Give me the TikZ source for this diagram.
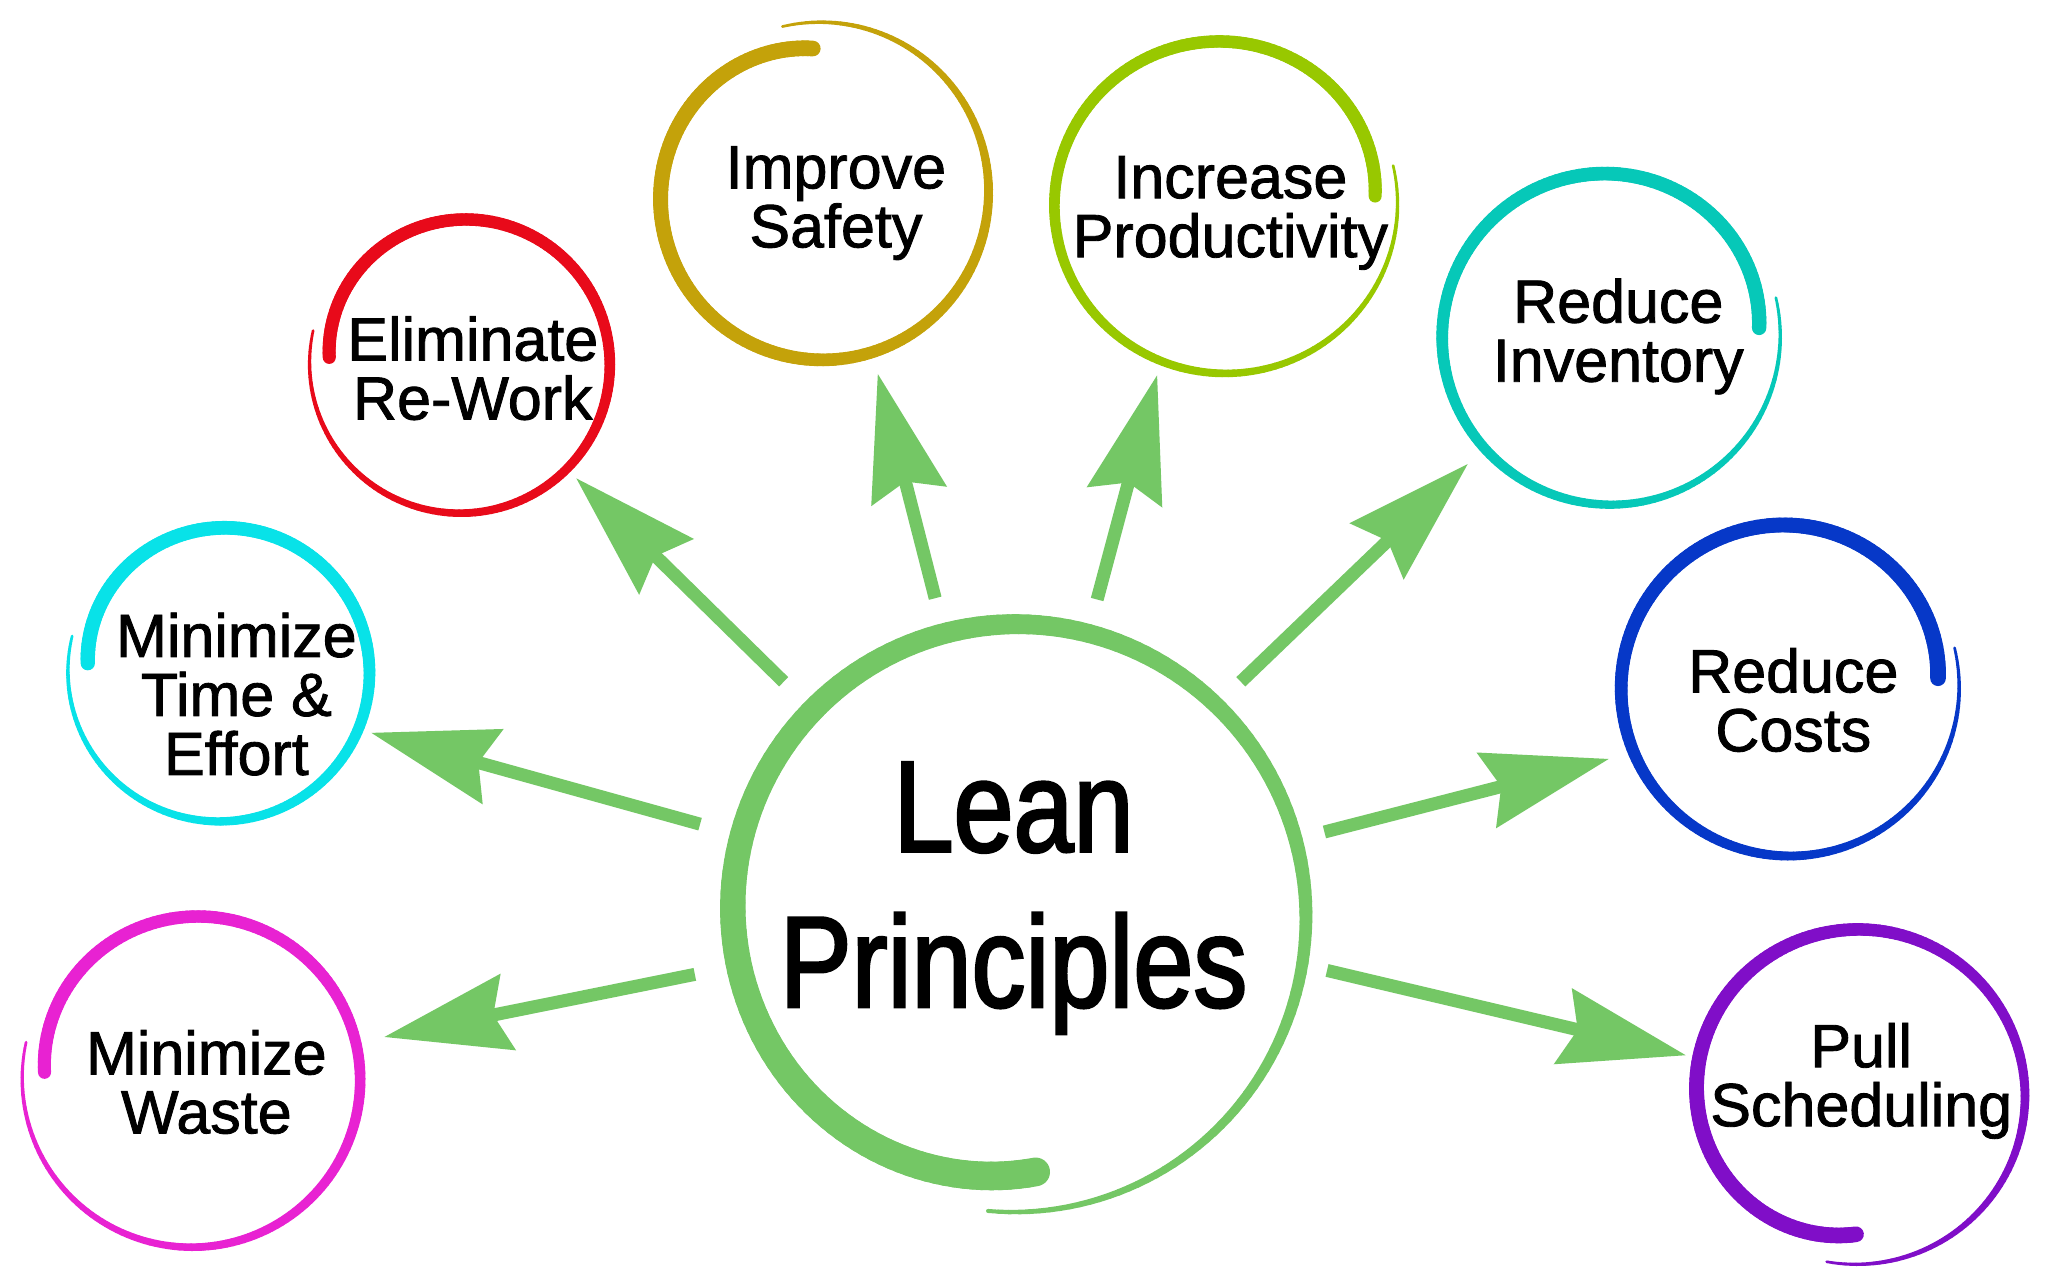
\documentclass[tikz,border=0pt]{standalone}
\usepackage{fontspec}
\setmainfont{Liberation Sans}
\newfontfamily\leanfont[FakeStretch=0.83,FakeBold=2]{Liberation Sans}
\newfontfamily\labfont[FakeBold=1.4]{Liberation Sans}
\usetikzlibrary{arrows.meta}
\definecolor{leangreen}{RGB}{116,199,101}
\definecolor{cred}{RGB}{232,10,26}
\definecolor{cgold}{RGB}{196,162,10}
\definecolor{cyg}{RGB}{152,200,0}
\definecolor{cteal}{RGB}{6,200,184}
\definecolor{cblue}{RGB}{6,56,200}
\definecolor{cpurple}{RGB}{128,14,200}
\definecolor{cmag}{RGB}{232,34,210}
\definecolor{ccyan}{RGB}{8,226,232}
\AtBeginDocument{\lineskiplimit=-100pt\relax}
\newcommand\brushexp{2}
% #1 cx #2 cy #3 rx #4 ry #5 start angle #6 sweep #7 wmax #8 wmin #9 inward offset at start
\newcommand\brushring[9]{%
  \foreach \i in {0,...,184}{%
    \pgfmathsetmacro\brTa{\i/185}%
    \pgfmathsetmacro\brTb{(\i+1)/185}%
    \pgfmathsetmacro\brTm{(\i+0.5)/185}%
    \pgfmathsetmacro\brAa{#5+(#6)*\brTa}%
    \pgfmathsetmacro\brAb{#5+(#6)*\brTb}%
    \pgfmathsetmacro\brFa{#9*(1-\brTa)^4}%
    \pgfmathsetmacro\brFb{#9*(1-\brTb)^4}%
    \pgfmathsetmacro\brLw{0.6531*(#8+(#7-#8)*(1-\brTm^\brushexp))}%
    \draw[line width=\brLw pt] ({#1+(#3-\brFa)*cos(\brAa)},{#2+(#4-\brFa)*sin(\brAa)}) -- ({#1+(#3-\brFb)*cos(\brAb)},{#2+(#4-\brFb)*sin(\brAb)});
  }%
}
\tikzset{
  lab/.style={font=\labfont\fontsize{30.5}{29.5}\selectfont, align=center, inner sep=0pt, text=black},
  leanlab/.style={font=\leanfont\fontsize{65}{77.7}\selectfont, align=center, inner sep=0pt, text=black},
  leanarrow/.style={draw=leangreen, line width=6.5pt, -{Stealth[length=62.7pt,width=37.9pt,inset=7pt]}},
  brush/.style={draw=#1, line cap=round},
}
\begin{document}
\begin{tikzpicture}[x=0.6531pt, y=-0.6531pt]
\fill[white] (0,0) rectangle (1568,979.2);
\useasboundingbox (0,0) rectangle (1568,979.2);

% brush circles
\begin{scope}[brush=leangreen]
  \renewcommand\brushexp{1.5}
  \brushring{776}{702}{224}{226}{85}{370}{22}{3}{30}
\end{scope}
\begin{scope}[brush=cgold]
  \brushring{628}{147}{129}{130}{267}{-370}{12}{2}{20}
\end{scope}
\begin{scope}[brush=cyg]
  \brushring{938}{156}{132}{130}{-3}{-370}{10}{2}{17}
\end{scope}
\begin{scope}[brush=cteal]
  \brushring{1233}{257}{130}{129.5}{-3}{-370}{11}{2}{16}
\end{scope}
\begin{scope}[brush=cblue]
  \brushring{1370}{526}{130}{129.5}{-3.4}{-370}{12}{2}{16}
\end{scope}
\begin{scope}[brush=cpurple]
  \brushring{1421}{839}{129.5}{129}{90}{370}{12}{2}{23}
\end{scope}
\begin{scope}[brush=cmag]
  \brushring{147}{825.5}{130}{129.5}{182.3}{370}{10}{2}{17}
\end{scope}
\begin{scope}[brush=ccyan]
  \brushring{168}{514}{116}{115}{183.6}{370}{11}{2}{15}
\end{scope}
\begin{scope}[brush=cred]
  \brushring{352.5}{278}{115.5}{115}{182.5}{370}{10}{2}{15}
\end{scope}

% labels
\node[leanlab] (lean) at (776,687.7) {\strut Lean\\\strut Principles};
\node[lab] (safety) at (640,157.5) {\strut Improve\\\strut Safety};
\node[lab] (productivity) at (942,165) {\strut Increase\\\strut Productivity};
\node[lab] (inventory) at (1239,259.5) {\strut Reduce\\\strut Inventory};
\node[lab] (costs) at (1373,542.5) {\strut Reduce\\\strut Costs};
\node[lab] (pull) at (1425,829.5) {\strut Pull\\\strut Scheduling};
\node[lab] (waste) at (158,835) {\strut Minimize\\\strut Waste};
\node[lab] (timeeffort) at (181,538) {\strut Minimize\\\strut Time \&\\\strut Effort};
\node[lab] (rework) at (362,288.5) {\strut Eliminate\\\strut Re-Work};

% arrow end points
\coordinate (lean-safety) at (716,458);   \coordinate (safety-in) at (672,286);
\coordinate (lean-prod) at (840,459);     \coordinate (prod-in) at (886,287);
\coordinate (lean-inv) at (950,522);      \coordinate (inv-in) at (1124,355);
\coordinate (lean-costs) at (1014,637);   \coordinate (costs-in) at (1232,581);
\coordinate (lean-pull) at (1016,743);    \coordinate (pull-in) at (1291,808);
\coordinate (lean-waste) at (532,746);    \coordinate (waste-in) at (294,794);
\coordinate (lean-time) at (536,631);     \coordinate (time-in) at (284,561);
\coordinate (lean-rework) at (600,522);   \coordinate (rework-in) at (441,366);

\draw[leanarrow] (lean-safety) -- (safety-in);
\draw[leanarrow] (lean-prod) -- (prod-in);
\draw[leanarrow] (lean-inv) -- (inv-in);
\draw[leanarrow] (lean-costs) -- (costs-in);
\draw[leanarrow] (lean-pull) -- (pull-in);
\draw[leanarrow] (lean-waste) -- (waste-in);
\draw[leanarrow] (lean-time) -- (time-in);
\draw[leanarrow] (lean-rework) -- (rework-in);
\end{tikzpicture}
\end{document}
